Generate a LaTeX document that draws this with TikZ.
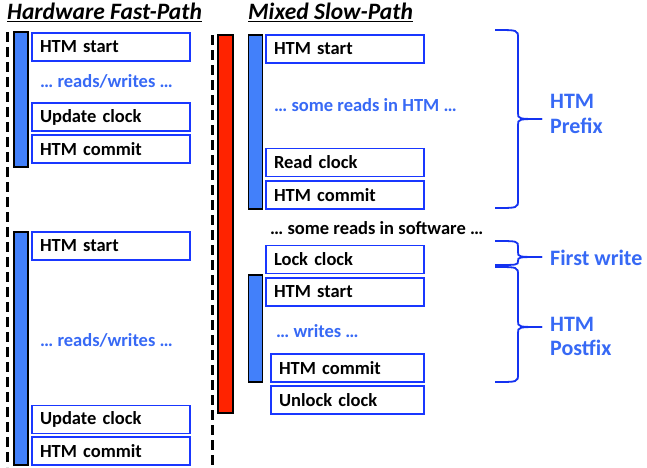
\documentclass[tikz,border=0pt]{standalone}
\usepackage{fontspec}
\setmainfont{Carlito}
\definecolor{boxblue}{RGB}{25,55,255}
\definecolor{barblue}{RGB}{66,128,250}
\definecolor{txtblue}{RGB}{55,105,245}
\definecolor{barred}{RGB}{255,35,0}
\definecolor{braceblue}{RGB}{20,50,240}
\begin{document}
\begin{tikzpicture}[x=1pt,y=-1pt,
  box/.style={draw=boxblue,line width=1.4pt,minimum height=28pt,inner xsep=8pt,inner ysep=0pt,
    text width=142pt,align=left,font=\fontsize{18.5}{20}\selectfont\bfseries},
  boxs/.style={box,text width=137pt},
  bar/.style={draw=black,line width=1.3pt,fill=barblue,minimum width=14pt,inner sep=0pt},
  redbar/.style={draw=black,line width=1.3pt,fill=barred,minimum width=15pt,inner sep=0pt},
  bluetxt/.style={text=txtblue,font=\fontsize{18.5}{20}\selectfont\bfseries,inner sep=0pt},
  blacktxt/.style={text=black,font=\fontsize{18.5}{20}\selectfont\bfseries,inner sep=0pt},
  lbl/.style={text=txtblue,font=\fontsize{22}{25}\selectfont\bfseries,inner sep=0pt,align=left},
  title/.style={font=\fontsize{23.5}{26}\selectfont\bfseries\itshape,inner sep=0pt},
  sep/.style={line width=3pt,dash pattern=on 10pt off 5pt},
  brc/.style={draw=braceblue,line width=1.8pt}]
\useasboundingbox (0,0) rectangle (647,467);

% titles
\node[title,anchor=west] (t1) at (7,11) {Hardware Fast-Path};
\node[title,anchor=west] (t2) at (248,11) {Mixed Slow-Path};
\draw[line width=1.5pt] (t1.west|-0,21.5) -- (t1.east|-0,21.5);
\draw[line width=1.5pt] (t2.west|-0,21.5) -- (t2.east|-0,21.5);

% dashed separators
\coordinate (d1a) at (7.5,32); \coordinate (d1b) at (7.5,467);
\coordinate (d2a) at (212,35); \coordinate (d2b) at (212,467);
\draw[sep] (d1a) -- (d1b);
\draw[sep] (d2a) -- (d2b);

% hardware fast path, first transaction
\node[bar,minimum height=135pt] (b1) at (21,99.5) {};
\node[box] (h1s) at (111,47) {HTM start};
\node[bluetxt,anchor=west] (h1r) at (40,81) {\dots\ reads/writes \dots};
\node[box] (h1u) at (111,117) {Update clock};
\node[box] (h1c) at (111,149) {HTM commit};

% hardware fast path, second transaction
\node[bar,minimum height=233pt] (b2) at (21,348.5) {};
\node[box] (h2s) at (111,246) {HTM start};
\node[bluetxt,anchor=west] (h2r) at (40,340) {\dots\ reads/writes \dots};
\node[box] (h2u) at (111,419.5) {Update clock};
\node[box] (h2c) at (111,451) {HTM commit};

% mixed slow path
\node[redbar,minimum height=378pt] (rb) at (225.5,224) {};
\node[bar,minimum height=174pt] (b3) at (255.5,122) {};
\node[box] (m1s) at (345,49) {HTM start};
\node[bluetxt,anchor=west] (m1r) at (274,105) {\dots\ some reads in HTM \dots};
\node[box] (m1rc) at (345,162.5) {Read clock};
\node[box] (m1c) at (345,195) {HTM commit};
\node[blacktxt,anchor=west] (sw) at (270,228) {\dots\ some reads in software \dots};
\node[box] (lk) at (345,259.5) {Lock clock};
\node[bar,minimum height=107pt] (b4) at (255.5,328.5) {};
\node[box] (m2s) at (345,292) {HTM start};
\node[bluetxt,anchor=west] (m2w) at (276,331) {\dots\ writes \dots};
\node[boxs] (m2c) at (347.5,368) {HTM commit};
\node[boxs] (ul) at (347.5,400) {Unlock clock};

% braces
\draw[brc] (495,30) .. controls (518,30) .. (518,38) -- (518,113) .. controls (518,119) .. (542,119);
\draw[brc] (542,119) .. controls (518,119) .. (518,125) -- (518,200) .. controls (518,208) .. (495,208);
\draw[brc] (495,241) .. controls (518,241) .. (518,247) -- (518,252) .. controls (518,257) .. (542,257);
\draw[brc] (542,257) .. controls (518,257) .. (518,261) .. controls (518,265) .. (495,265);
\draw[brc] (495,267) .. controls (518,267) .. (518,275) -- (518,321) .. controls (518,327) .. (542,327);
\draw[brc] (542,327) .. controls (518,327) .. (518,333) -- (518,374) .. controls (518,382) .. (495,382);

% labels
\node[lbl,anchor=west] (lp1) at (550,101) {HTM};
\node[lbl,anchor=west] (lp2) at (550,126) {Prefix};
\node[lbl,anchor=west] (lf) at (550,258) {First write};
\node[lbl,anchor=west] (lq1) at (550,324) {HTM};
\node[lbl,anchor=west] (lq2) at (550,348) {Postfix};
\end{tikzpicture}
\end{document}
